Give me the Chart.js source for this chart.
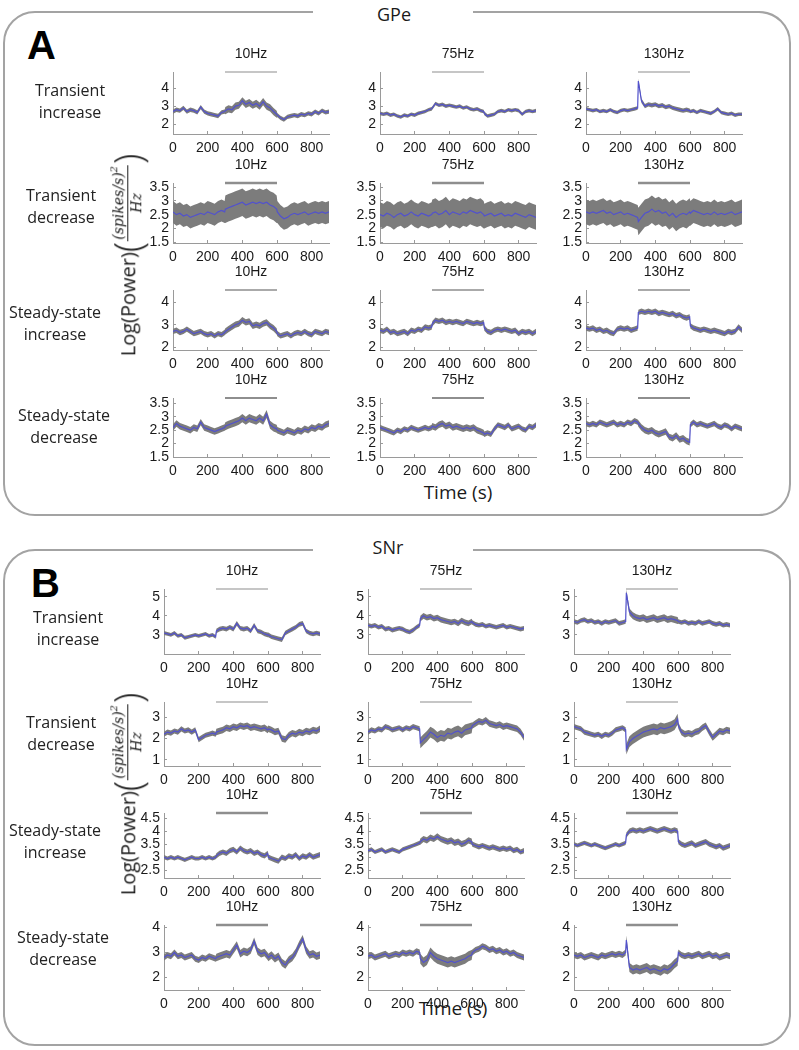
<!DOCTYPE html>
<html>
<head>
<meta charset="utf-8">
<script src="https://cdn.jsdelivr.net/npm/chart.js@4.4.0/dist/chart.umd.min.js"></script>
<style>
  body { margin: 0; width: 799px; height: 1050px; background: #fff; position: relative; overflow: hidden; font-family: "Open Sans", sans-serif; color: #1a1a1a; }
  .box { position: absolute; box-sizing: border-box; border: 2.5px solid #a3a3a3; border-radius: 32px; }
  .gap { position: absolute; background: #fff; height: 22px; }
  .boxTitle { position: absolute; font-size: 18px; line-height: 22px; text-align: center; width: 80px; }
  .letter { position: absolute; font: bold 40px/40px "Liberation Sans", Arial, sans-serif; color: #000; }
  .rowLabel { position: absolute; width: 140px; text-align: center; font-size: 16px; line-height: 22px; color: #222; }
  .timeLabel { position: absolute; width: 120px; text-align: center; font-size: 19px; line-height: 24px; }
  .ylab { position: absolute; display: flex; align-items: center; white-space: nowrap; transform: rotate(-90deg); font-size: 20px; }
  .ylab .par { font-size: 38px; line-height: 38px; font-weight: 300; }
  .frac { display: inline-flex; flex-direction: column; align-items: center; font-family: "DejaVu Serif", serif; font-style: italic; font-size: 14px; line-height: 16px; margin: 0 1px; }
  .frac .num { border-bottom: 1.4px solid #1a1a1a; padding: 0 1px 1px; }
  .frac sup { font-size: 10px; vertical-align: 6px; line-height: 0; }
  canvas { position: absolute; }
</style>
</head>
<body>
<div class="box" style="left:3px;top:11px;width:788px;height:505px"></div>
<div class="gap" style="left:313px;top:1px;width:160px"></div>
<div class="boxTitle" style="left:354px;top:3px">GPe</div>
<div class="letter" style="left:27px;top:25px">A</div>

<div class="box" style="left:3px;top:549px;width:788px;height:497px"></div>
<div class="gap" style="left:313px;top:539px;width:160px"></div>
<div class="boxTitle" style="left:348px;top:536px">SNr</div>
<div class="letter" style="left:31px;top:563px">B</div>

<div class="timeLabel" style="left:398px;top:480px">Time (s)</div>
<div class="timeLabel" style="left:393px;top:996px">Time (s)</div>

<script>
// time points (s) of the traces, with extra points at the stimulus edges
const times = [0,20,40,60,80,100,120,140,160,180,200,220,240,260,280,298,302,320,340,360,380,400,420,440,460,480,500,520,540,560,580,598,602,620,640,660,680,700,720,740,760,780,800,820,840,860,880,900];
const xTicks = [0, 200, 400, 600, 800];
const stimWindow = [300, 600];
const freqs = ["10Hz", "75Hz", "130Hz"];
const rowNames = [["Transient", "increase"], ["Transient", "decrease"], ["Steady-state", "increase"], ["Steady-state", "decrease"]];

// y axis ranges and ticks for each row
const gpeYRange = [[1.45, 4.9], [1.47, 3.65], [1.87, 4.55], [1.5, 3.7]];
const gpeYTicks = [[2, 3, 4], [1.5, 2, 2.5, 3, 3.5], [2, 3, 4], [1.5, 2, 2.5, 3, 3.5]];
const snrYRange = [[2, 5.4], [0.72, 3.7], [2.2, 4.7], [1.5, 4.1]];
const snrYTicks = [[3, 4, 5], [1, 2, 3], [2.5, 3, 3.5, 4, 4.5], [2, 3, 4]];

// GPe mean log power
const gpeTransInc10 = [2.7,2.8,2.75,2.9,2.7,2.8,2.75,2.65,2.95,2.7,2.6,2.55,2.5,2.45,2.65, 2.7,2.75, 2.85,2.8,3.0,3.05,3.3,3.1,3.2,3.05,3.15,3.0,3.25,3.0,2.9,2.7, 2.55,2.5, 2.35,2.25,2.4,2.45,2.5,2.45,2.55,2.5,2.6,2.55,2.7,2.6,2.75,2.65,2.7];
const gpeTransInc75 = [2.6,2.55,2.6,2.5,2.55,2.45,2.4,2.5,2.45,2.55,2.5,2.6,2.65,2.7,2.8, 2.85,2.9, 3.15,3.05,3.1,3.0,3.05,3.0,2.95,3.0,2.9,2.95,2.85,2.8,2.85,2.75, 2.7,2.6, 2.45,2.5,2.55,2.7,2.75,2.7,2.8,2.75,2.8,2.75,2.55,2.7,2.75,2.7,2.75];
const gpeTransInc130 = [2.85,2.8,2.75,2.8,2.7,2.75,2.7,2.8,2.7,2.65,2.75,2.8,2.75,2.8,2.85, 2.9,4.4, 3.3,3.0,3.1,3.05,3.1,3.0,3.05,2.95,3.0,2.9,2.85,2.8,2.75,2.8, 2.75,2.7, 2.75,2.65,2.75,2.7,2.65,2.6,2.7,2.85,2.65,2.6,2.55,2.6,2.5,2.55,2.55];
const gpeTransDec10 = [2.6,2.5,2.55,2.45,2.5,2.4,2.45,2.5,2.55,2.5,2.6,2.55,2.5,2.6,2.65, 2.6,2.7, 2.75,2.8,2.85,2.9,2.95,2.85,2.9,2.95,2.9,2.95,2.9,2.95,2.85,2.8, 2.7,2.6, 2.45,2.35,2.4,2.5,2.55,2.5,2.55,2.6,2.5,2.55,2.6,2.55,2.6,2.55,2.6];
const gpeTransDec75 = [2.5,2.45,2.55,2.5,2.4,2.5,2.55,2.45,2.5,2.6,2.5,2.45,2.55,2.5,2.45, 2.5,2.55, 2.6,2.5,2.55,2.65,2.5,2.6,2.55,2.5,2.6,2.55,2.65,2.6,2.55,2.6, 2.5,2.45, 2.5,2.55,2.45,2.5,2.55,2.45,2.5,2.45,2.55,2.5,2.45,2.4,2.5,2.45,2.4];
const gpeTransDec130 = [2.6,2.55,2.6,2.55,2.6,2.65,2.55,2.6,2.5,2.55,2.6,2.5,2.55,2.5,2.45, 2.4,2.25, 2.4,2.55,2.6,2.7,2.6,2.65,2.55,2.6,2.45,2.55,2.4,2.5,2.55,2.5, 2.6,2.55, 2.65,2.6,2.55,2.5,2.55,2.5,2.6,2.5,2.55,2.5,2.55,2.6,2.5,2.55,2.6];
const gpeSteadyInc10 = [2.7,2.75,2.65,2.7,2.8,2.7,2.6,2.65,2.7,2.6,2.55,2.6,2.5,2.6,2.55, 2.65,2.7, 2.8,2.9,3.0,3.05,3.2,3.1,3.15,2.95,3.0,2.95,3.05,3.1,2.95,2.85, 2.7,2.6, 2.5,2.55,2.6,2.5,2.6,2.65,2.6,2.7,2.6,2.55,2.7,2.65,2.6,2.7,2.65];
const gpeSteadyInc75 = [2.75,2.7,2.8,2.65,2.7,2.6,2.65,2.7,2.6,2.75,2.7,2.8,2.75,2.9,2.85, 2.9,3.05, 3.2,3.15,3.2,3.1,3.15,3.1,3.15,3.1,3.05,3.15,3.1,3.05,3.1,3.05, 3.1,2.85, 2.7,2.65,2.75,2.8,2.75,2.8,2.75,2.7,2.75,2.6,2.7,2.65,2.7,2.6,2.7];
const gpeSteadyInc130 = [2.85,2.8,2.85,2.75,2.8,2.7,2.75,2.65,2.6,2.8,2.85,2.8,2.85,2.75,2.8, 2.85,3.55, 3.6,3.55,3.6,3.55,3.6,3.5,3.55,3.5,3.45,3.5,3.4,3.45,3.35,3.3, 3.35,2.95, 2.85,2.8,2.75,2.8,2.75,2.7,2.75,2.7,2.65,2.6,2.7,2.65,2.7,2.9,2.75];
const gpeSteadyDec10 = [2.6,2.75,2.65,2.6,2.55,2.5,2.6,2.55,2.8,2.6,2.55,2.5,2.45,2.5,2.55, 2.6,2.65, 2.7,2.75,2.8,2.85,2.95,2.85,2.95,2.9,2.85,2.95,2.85,3.1,2.7,2.6, 2.55,2.5, 2.45,2.4,2.5,2.45,2.4,2.5,2.45,2.55,2.5,2.6,2.55,2.65,2.6,2.7,2.75];
const gpeSteadyDec75 = [2.6,2.55,2.5,2.45,2.4,2.5,2.45,2.55,2.5,2.6,2.55,2.5,2.55,2.6,2.55, 2.6,2.65, 2.6,2.7,2.75,2.65,2.7,2.6,2.65,2.6,2.55,2.6,2.55,2.6,2.5,2.45, 2.4,2.35, 2.4,2.35,2.55,2.7,2.65,2.6,2.7,2.55,2.6,2.65,2.55,2.5,2.65,2.6,2.7];
const gpeSteadyDec130 = [2.75,2.7,2.75,2.7,2.8,2.75,2.7,2.75,2.8,2.7,2.75,2.7,2.8,2.75,2.85, 2.8,2.75, 2.6,2.5,2.45,2.5,2.4,2.35,2.4,2.45,2.25,2.2,2.3,2.15,2.2,2.1, 2.05,2.7, 2.8,2.7,2.75,2.7,2.65,2.7,2.75,2.65,2.6,2.7,2.65,2.55,2.65,2.6,2.55];

// SNr mean log power
const snrTransInc10 = [3.1,3.05,3.0,3.1,2.95,3.0,2.85,2.9,2.95,3.0,2.95,3.0,3.05,2.95,3.0, 2.9,3.2, 3.3,3.35,3.3,3.4,3.3,3.6,3.35,3.3,3.35,3.2,3.5,3.2,3.15,3.05, 3.0,3.0, 2.9,2.85,2.8,2.75,3.1,3.2,3.3,3.4,3.55,3.6,3.2,3.1,3.05,3.1,3.05];
const snrTransInc75 = [3.5,3.45,3.5,3.4,3.45,3.3,3.35,3.25,3.3,3.35,3.3,3.2,3.15,3.25,3.4, 3.5,3.85, 4.0,3.9,3.95,3.85,3.9,3.8,3.75,3.7,3.65,3.7,3.6,3.75,3.65,3.6, 3.7,3.65, 3.55,3.5,3.55,3.45,3.5,3.45,3.4,3.45,3.5,3.4,3.45,3.4,3.35,3.3,3.35];
const snrTransInc130 = [3.7,3.65,3.75,3.8,3.7,3.75,3.65,3.7,3.6,3.7,3.65,3.7,3.75,3.6,3.65, 3.7,5.2, 4.2,4.0,3.9,3.85,3.9,3.8,3.85,3.9,3.8,3.85,3.9,3.8,3.85,3.8, 3.75,3.7, 3.65,3.7,3.6,3.65,3.6,3.7,3.6,3.65,3.7,3.6,3.55,3.6,3.5,3.55,3.5];
const snrTransDec10 = [2.2,2.3,2.25,2.35,2.3,2.45,2.35,2.4,2.3,2.4,1.95,2.05,2.15,2.2,2.25, 2.2,2.3, 2.35,2.4,2.5,2.45,2.55,2.5,2.6,2.55,2.6,2.5,2.55,2.5,2.45,2.5, 2.4,2.45, 2.4,2.3,2.35,2.0,1.95,2.15,2.25,2.2,2.3,2.25,2.35,2.3,2.4,2.35,2.45];
const snrTransDec75 = [2.3,2.4,2.35,2.45,2.4,2.55,2.5,2.4,2.45,2.5,2.4,2.5,2.45,2.55,2.5, 2.45,1.8, 1.95,2.1,2.3,2.2,2.05,2.15,2.1,2.25,2.2,2.3,2.35,2.25,2.4,2.45, 2.5,2.6, 2.7,2.8,2.75,2.85,2.7,2.65,2.6,2.65,2.55,2.6,2.55,2.5,2.45,2.3,2.05];
const snrTransDec130 = [2.55,2.5,2.45,2.3,2.25,2.2,2.15,2.2,2.1,2.2,2.15,2.25,2.4,2.45,2.5, 2.4,1.5, 1.85,2.0,2.1,2.2,2.3,2.35,2.4,2.45,2.4,2.5,2.45,2.5,2.55,2.65, 2.9,2.6, 2.3,2.2,2.25,2.2,2.3,2.35,2.5,2.6,2.3,2.05,2.2,2.35,2.3,2.4,2.35];
const snrSteadyInc10 = [3.0,2.95,3.0,2.95,3.0,2.95,2.9,2.95,3.0,2.95,2.95,3.0,2.95,3.0,2.95, 3.0,3.05, 3.15,3.2,3.15,3.25,3.3,3.2,3.35,3.25,3.2,3.25,3.15,3.2,3.1,3.05, 3.15,3.0, 2.95,2.9,2.85,3.0,2.95,3.05,3.0,3.1,2.95,3.05,3.0,3.1,3.0,3.05,3.1];
const snrSteadyInc75 = [3.25,3.3,3.2,3.25,3.3,3.2,3.25,3.3,3.25,3.2,3.3,3.35,3.4,3.45,3.5, 3.55,3.6, 3.7,3.65,3.75,3.7,3.8,3.7,3.65,3.6,3.65,3.55,3.6,3.5,3.55,3.65, 3.6,3.5, 3.45,3.4,3.45,3.4,3.35,3.4,3.35,3.3,3.35,3.3,3.35,3.25,3.3,3.2,3.25];
const snrSteadyInc130 = [3.5,3.45,3.5,3.55,3.5,3.45,3.5,3.45,3.4,3.35,3.4,3.45,3.5,3.45,3.5, 3.55,3.85, 4.0,4.05,4.0,4.05,4.0,4.05,4.1,4.05,4.0,4.05,4.1,4.05,4.0,4.05, 4.0,3.6, 3.5,3.45,3.5,3.55,3.45,3.5,3.55,3.6,3.5,3.45,3.4,3.45,3.35,3.4,3.45];
const snrSteadyDec10 = [2.8,2.9,2.85,3.0,2.85,2.9,2.8,2.85,2.9,2.75,2.7,2.8,2.75,2.85,2.8, 2.75,2.8, 2.85,2.9,2.95,2.9,3.1,3.3,2.95,3.05,3.0,3.1,3.45,3.05,2.95,3.0, 2.85,2.8, 2.9,2.75,2.85,2.6,2.5,2.7,2.8,3.0,3.3,3.55,3.1,2.9,2.95,2.85,2.9];
const snrSteadyDec75 = [2.85,2.9,2.8,2.85,2.9,2.95,2.85,2.9,2.95,2.9,3.0,2.95,3.0,2.95,3.05, 3.0,2.75, 2.6,2.7,3.0,2.85,2.75,2.7,2.65,2.6,2.65,2.6,2.65,2.7,2.75,2.85, 2.9,3.0, 3.1,3.15,3.25,3.2,3.1,3.15,3.05,3.1,3.0,3.05,2.95,3.0,2.9,2.85,2.8];
const snrSteadyDec130 = [2.9,2.85,2.9,2.8,2.85,2.9,2.85,2.8,2.9,2.85,2.9,2.95,2.9,2.95,2.9, 3.0,3.5, 2.4,2.3,2.35,2.3,2.35,2.4,2.3,2.35,2.3,2.25,2.35,2.3,2.4,2.55, 2.65,3.0, 2.9,2.85,2.9,2.85,2.9,2.95,2.85,2.9,2.95,2.85,2.9,2.8,2.85,2.9,2.85];

// half-width of the grey spread band: [before, during, after] stimulation
const gpeTransInc10Band = [0.12, 0.2, 0.12];
const gpeTransInc75Band = [0.1, 0.1, 0.1];
const gpeTransInc130Band = [0.1, 0.12, 0.1];
const gpeTransDec10Band = [0.4, 0.5, 0.4];
const gpeTransDec75Band = [0.45, 0.5, 0.45];
const gpeTransDec130Band = [0.45, 0.5, 0.45];
const gpeSteadyInc10Band = [0.12, 0.14, 0.12];
const gpeSteadyInc75Band = [0.12, 0.12, 0.12];
const gpeSteadyInc130Band = [0.12, 0.12, 0.12];
const gpeSteadyDec10Band = [0.12, 0.15, 0.12];
const gpeSteadyDec75Band = [0.1, 0.12, 0.1];
const gpeSteadyDec130Band = [0.1, 0.12, 0.1];
const snrTransInc10Band = [0.1, 0.12, 0.12];
const snrTransInc75Band = [0.12, 0.15, 0.12];
const snrTransInc130Band = [0.12, 0.18, 0.12];
const snrTransDec10Band = [0.12, 0.15, 0.15];
const snrTransDec75Band = [0.12, 0.25, 0.15];
const snrTransDec130Band = [0.12, 0.25, 0.15];
const snrSteadyInc10Band = [0.08, 0.1, 0.1];
const snrSteadyInc75Band = [0.08, 0.12, 0.1];
const snrSteadyInc130Band = [0.08, 0.1, 0.1];
const snrSteadyDec10Band = [0.12, 0.15, 0.15];
const snrSteadyDec75Band = [0.12, 0.2, 0.12];
const snrSteadyDec130Band = [0.12, 0.18, 0.12];

const gpeRows = [
    [[gpeTransInc10, gpeTransInc10Band], [gpeTransInc75, gpeTransInc75Band], [gpeTransInc130, gpeTransInc130Band]],
    [[gpeTransDec10, gpeTransDec10Band], [gpeTransDec75, gpeTransDec75Band], [gpeTransDec130, gpeTransDec130Band]],
    [[gpeSteadyInc10, gpeSteadyInc10Band], [gpeSteadyInc75, gpeSteadyInc75Band], [gpeSteadyInc130, gpeSteadyInc130Band]],
    [[gpeSteadyDec10, gpeSteadyDec10Band], [gpeSteadyDec75, gpeSteadyDec75Band], [gpeSteadyDec130, gpeSteadyDec130Band]]
];
const snrRows = [
    [[snrTransInc10, snrTransInc10Band], [snrTransInc75, snrTransInc75Band], [snrTransInc130, snrTransInc130Band]],
    [[snrTransDec10, snrTransDec10Band], [snrTransDec75, snrTransDec75Band], [snrTransDec130, snrTransDec130Band]],
    [[snrSteadyInc10, snrSteadyInc10Band], [snrSteadyInc75, snrSteadyInc75Band], [snrSteadyInc130, snrSteadyInc130Band]],
    [[snrSteadyDec10, snrSteadyDec10Band], [snrSteadyDec75, snrSteadyDec75Band], [snrSteadyDec130, snrSteadyDec130Band]]
];

// page layout (pixels)
const PLOT_W = 156;
const Y_GUTTER = 50;
const TOP_PAD = 34;
const X_GUTTER = 26;
const RIGHT_PAD = 10;
const layoutA = {
    cols: [173, 380, 586],
    rows: [[72, 134], [183, 243], [290, 350], [398, 457]],
    labelX: [70, 61, 55, 64],
    labelY: [90, 195, 312, 415],
    barWidth: [1.2, 2.5, 1.5, 2.2],
    yLabel: [127, 255]
};
const layoutB = {
    cols: [164, 368, 574],
    rows: [[589, 654], [702, 766], [813, 878], [925, 990]],
    labelX: [68, 61, 55, 63],
    labelY: [617, 722, 830, 937],
    barWidth: [1.2, 1.2, 2.5, 2.5],
    yLabel: [127, 794]
};

const BLUE = "rgb(82, 82, 205)";
const GREY = "#7c7c7c";
const AXIS = "#9a9a9a";

Chart.defaults.font.family = '"Liberation Sans", Arial, sans-serif';
Chart.defaults.font.size = 14;
Chart.defaults.color = "#1a1a1a";

const panelTitle = {
    id: "panelTitle",
    afterDraw(chart, args, opts) {
        const { ctx, chartArea } = chart;
        ctx.save();
        ctx.font = '14px "Liberation Sans", Arial, sans-serif';
        ctx.fillStyle = "#1a1a1a";
        ctx.textAlign = "center";
        ctx.textBaseline = "middle";
        ctx.fillText(opts.text, (chartArea.left + chartArea.right) / 2, chartArea.top - 18);
        ctx.restore();
    }
};

function epochOf(t) {
    if (t < stimWindow[0]) return 0;
    if (t < stimWindow[1]) return 1;
    return 2;
}

function addPanel(left, top, height, mean, band, yRange, yTicks, title, barWidth) {
    const w = Y_GUTTER + PLOT_W + RIGHT_PAD;
    const h = TOP_PAD + height + X_GUTTER;
    const canvas = document.createElement("canvas");
    canvas.width = w;
    canvas.height = h;
    canvas.style.left = (left - Y_GUTTER) + "px";
    canvas.style.top = (top - TOP_PAD) + "px";
    canvas.style.width = w + "px";
    canvas.style.height = h + "px";
    document.body.appendChild(canvas);

    const upper = times.map((t, i) => ({ x: t, y: mean[i] + band[epochOf(t)] }));
    const lower = times.map((t, i) => ({ x: t, y: mean[i] - band[epochOf(t)] }));
    const line = times.map((t, i) => ({ x: t, y: mean[i] }));
    const bar = stimWindow.map(t => ({ x: t, y: yRange[1] }));

    new Chart(canvas, {
        type: "line",
        data: {
            datasets: [
                { data: upper, borderWidth: 0, pointRadius: 0, backgroundColor: GREY, fill: "+1", order: 3 },
                { data: lower, borderWidth: 0, pointRadius: 0, fill: false, order: 2 },
                { data: line, borderColor: BLUE, borderWidth: 1.2, pointRadius: 0, fill: false, order: 0 },
                { data: bar, borderColor: "#8e8e8e", borderWidth: barWidth, pointRadius: 0, fill: false, clip: false, order: 1 }
            ]
        },
        options: {
            responsive: false,
            animation: false,
            events: [],
            layout: { padding: { top: TOP_PAD, right: RIGHT_PAD, left: 0, bottom: 0 } },
            plugins: {
                legend: { display: false },
                tooltip: { enabled: false },
                panelTitle: { text: title }
            },
            scales: {
                x: {
                    type: "linear",
                    min: 0,
                    max: 900,
                    border: { display: true, color: AXIS, width: 1 },
                    grid: { display: true, drawOnChartArea: false, drawTicks: true, tickLength: -3, color: AXIS },
                    ticks: { autoSkip: false, maxRotation: 0, padding: 9, callback: v => String(v) },
                    afterBuildTicks: s => { s.ticks = xTicks.map(v => ({ value: v })); },
                    afterFit: s => { s.height = X_GUTTER; }
                },
                y: {
                    type: "linear",
                    min: yRange[0],
                    max: yRange[1],
                    bounds: "data",
                    border: { display: true, color: AXIS, width: 1 },
                    grid: { display: true, drawOnChartArea: false, drawTicks: true, tickLength: -3, color: AXIS },
                    ticks: { autoSkip: false, padding: 7, callback: v => String(v) },
                    afterBuildTicks: s => { s.ticks = yTicks.map(v => ({ value: v })); },
                    afterFit: s => { s.width = Y_GUTTER; }
                }
            }
        },
        plugins: [panelTitle]
    });
}

function addText(cls, html, left, top) {
    const div = document.createElement("div");
    div.className = cls;
    div.innerHTML = html;
    div.style.left = left + "px";
    div.style.top = top + "px";
    document.body.appendChild(div);
    return div;
}

function addYLabel(cx, cy) {
    const div = addText("ylab",
        '<span>Log(Power)</span><span class="par">(</span>' +
        '<span class="frac"><span class="num">(spikes/s)<sup>2</sup></span><span class="den">Hz</span></span>' +
        '<span class="par">)</span>', 0, 0);
    div.style.left = (cx - div.offsetWidth / 2) + "px";
    div.style.top = (cy - div.offsetHeight / 2) + "px";
}

function drawFigure(rows, yRanges, yTicksList, layout) {
    rows.forEach((row, r) => {
        const [top, bottom] = layout.rows[r];
        row.forEach(([mean, band], c) => {
            addPanel(layout.cols[c], top, bottom - top, mean, band, yRanges[r], yTicksList[r], freqs[c], layout.barWidth[r]);
        });
        addText("rowLabel", rowNames[r].join("<br>"), layout.labelX[r] - 70, layout.labelY[r] - 11);
    });
    addYLabel(layout.yLabel[0], layout.yLabel[1]);
}

drawFigure(gpeRows, gpeYRange, gpeYTicks, layoutA);
drawFigure(snrRows, snrYRange, snrYTicks, layoutB);
</script>
</body>
</html>
